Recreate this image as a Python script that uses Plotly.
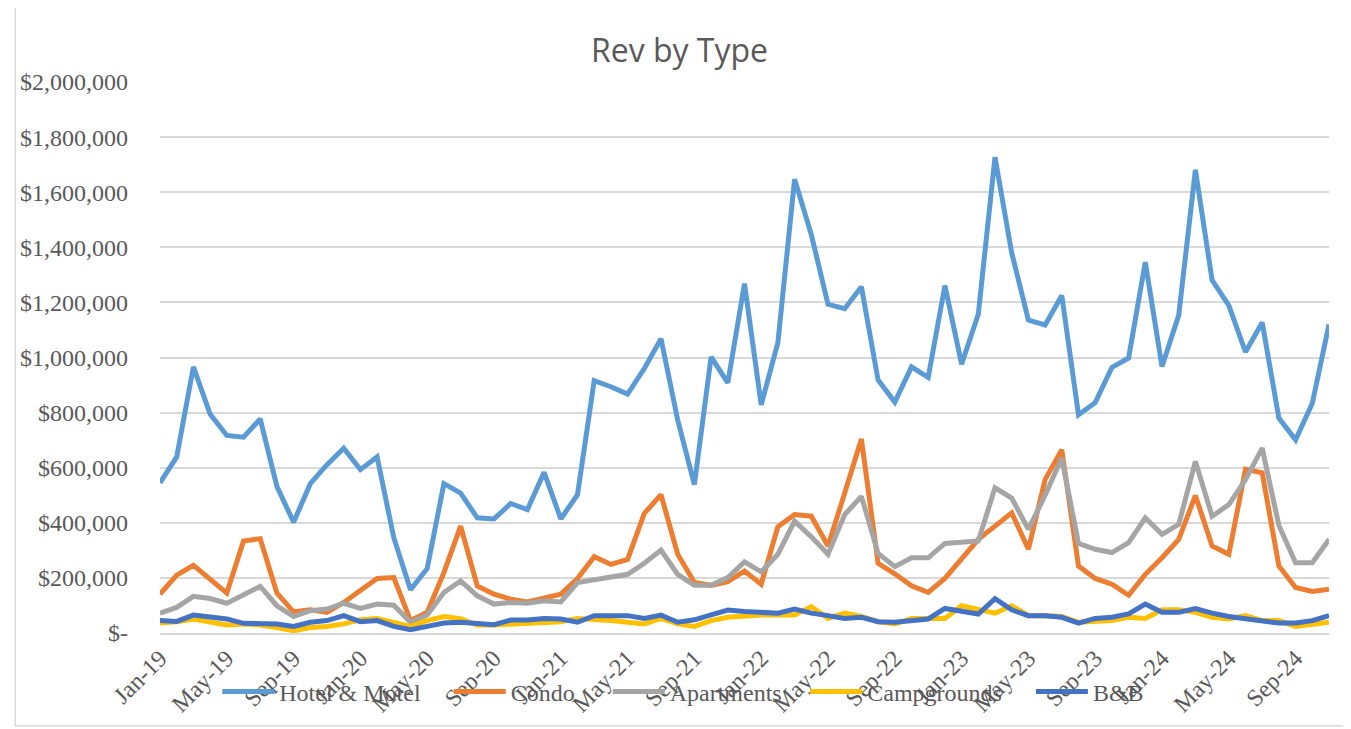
import plotly.graph_objects as go

# 月份类别 Jan-19 ... Nov-24
MONTH_NAMES = ["Jan", "Feb", "Mar", "Apr", "May", "Jun",
               "Jul", "Aug", "Sep", "Oct", "Nov", "Dec"]
YEARS = ["19", "20", "21", "22", "23", "24"]
months = [f"{m}-{y}" for y in YEARS for m in MONTH_NAMES][:71]

hotel_motel = [
    545000, 639000, 966000, 795000, 717000, 711000, 777000, 532000, 402000, 542000, 611000, 671000,
    593000, 639000, 346000, 157000, 234000, 542000, 508000, 418000, 414000, 470000, 448000, 583000,
    414000, 502000, 916000, 894000, 867000, 960000, 1068000, 773000, 539000, 1002000, 908000, 1268000,
    828000, 1054000, 1647000, 1446000, 1193000, 1177000, 1257000, 918000, 838000, 966000, 928000, 1261000,
    976000, 1157000, 1727000, 1380000, 1136000, 1118000, 1225000, 792000, 836000, 964000, 998000, 1346000,
    967000, 1153000, 1681000, 1281000, 1189000, 1020000, 1127000, 780000, 701000, 834000, 1120000,
]
condo = [
    141000, 210000, 246000, 198000, 145000, 334000, 342000, 145000, 77000, 84000, 75000, 111000,
    157000, 198000, 201000, 45000, 75000, 219000, 388000, 171000, 141000, 123000, 113000, 129000,
    141000, 198000, 277000, 249000, 267000, 434000, 502000, 286000, 183000, 173000, 186000, 225000,
    177000, 386000, 430000, 424000, 316000, 508000, 704000, 253000, 215000, 171000, 147000, 198000,
    267000, 340000, 388000, 436000, 304000, 557000, 665000, 243000, 198000, 177000, 137000, 213000,
    273000, 340000, 499000, 316000, 286000, 594000, 581000, 243000, 165000, 151000, 159000,
]
apartments = [
    72000, 93000, 133000, 125000, 108000, 137000, 169000, 99000, 60000, 81000, 87000, 108000,
    89000, 105000, 101000, 39000, 65000, 147000, 189000, 135000, 105000, 111000, 108000, 117000,
    113000, 183000, 193000, 207000, 213000, 253000, 301000, 213000, 173000, 173000, 201000, 258000,
    222000, 286000, 406000, 349000, 286000, 430000, 496000, 289000, 241000, 273000, 273000, 325000,
    330000, 334000, 527000, 490000, 376000, 500000, 635000, 325000, 304000, 292000, 328000, 418000,
    358000, 394000, 623000, 424000, 466000, 557000, 671000, 390000, 255000, 255000, 340000,
]
campgrounds = [
    36000, 41000, 51000, 41000, 29000, 33000, 29000, 20000, 8000, 20000, 24000, 33000,
    48000, 53000, 39000, 24000, 45000, 60000, 52000, 29000, 29000, 33000, 36000, 41000,
    41000, 53000, 51000, 45000, 39000, 33000, 53000, 33000, 24000, 45000, 57000, 63000,
    65000, 65000, 65000, 96000, 53000, 72000, 60000, 41000, 33000, 53000, 53000, 53000,
    99000, 87000, 72000, 99000, 63000, 63000, 60000, 39000, 41000, 45000, 57000, 53000,
    84000, 84000, 75000, 57000, 51000, 63000, 45000, 45000, 24000, 33000, 39000,
]
bnb = [
    45000, 42000, 65000, 59000, 51000, 35000, 36000, 33000, 24000, 39000, 45000, 63000,
    41000, 45000, 24000, 12000, 24000, 36000, 39000, 33000, 30000, 47000, 47000, 53000,
    51000, 39000, 63000, 63000, 63000, 53000, 65000, 39000, 48000, 66000, 83000, 78000,
    75000, 72000, 87000, 72000, 63000, 53000, 57000, 41000, 39000, 45000, 51000, 89000,
    77000, 69000, 125000, 84000, 63000, 63000, 57000, 36000, 53000, 57000, 69000, 105000,
    75000, 75000, 89000, 72000, 60000, 51000, 45000, 36000, 36000, 45000, 63000,
]

y_tickvals = [0, 200000, 400000, 600000, 800000, 1000000,
              1200000, 1400000, 1600000, 1800000, 2000000]
y_ticktext = ["$-" if v == 0 else f"${v:,}" for v in y_tickvals]

series = [
    ("Hotel & Motel", hotel_motel, "#5B9BD5"),
    ("Condo", condo, "#ED7D31"),
    ("Apartments", apartments, "#A5A5A5"),
    ("Campgrounds", campgrounds, "#FFC000"),
    ("B&B", bnb, "#4472C4"),
]

# 每个图例项单独放置，模仿 Excel 的图例间距
legend_x = [0.049, 0.247, 0.383, 0.552, 0.745]

font_serif = "Liberation Serif, Times New Roman, serif"
grey_text = "#595959"

fig = go.Figure()
legend_layout = {}
for k, (name, vals, color) in enumerate(series):
    key = "legend" if k == 0 else f"legend{k + 1}"
    fig.add_trace(go.Scatter(
        x=months,
        y=vals,
        name=name,
        mode="lines",
        line=dict(color=color, width=5),
        legend=key,
    ))
    legend_layout[key] = dict(
        orientation="h",
        x=legend_x[k],
        xanchor="left",
        y=-0.107,
        yanchor="middle",
        bgcolor="rgba(0,0,0,0)",
        font=dict(family=font_serif, size=24, color=grey_text),
        itemwidth=52,
    )

fig.update_layout(
    width=1343,
    height=721,
    paper_bgcolor="white",
    plot_bgcolor="white",
    margin=dict(l=142, r=22, t=74, b=87),
    title=dict(
        text="Rev by Type",
        x=0.5,
        xanchor="center",
        y=0.94,
        yanchor="middle",
        font=dict(family="Open Sans, Carlito, sans-serif", size=32, color=grey_text),
    ),
    xaxis=dict(
        type="category",
        tickvals=months[::4],
        ticktext=months[::4],
        tickangle=-45,
        tickfont=dict(family=font_serif, size=24, color=grey_text),
        showgrid=False,
        showline=True,
        linecolor="#D9D9D9",
        linewidth=1.5,
        ticks="",
    ),
    yaxis=dict(
        range=[0, 2000000],
        tickvals=y_tickvals,
        ticktext=y_ticktext,
        tickfont=dict(family=font_serif, size=24, color=grey_text),
        showgrid=True,
        gridcolor="#D9D9D9",
        gridwidth=1.5,
        zeroline=False,
        ticklabelstandoff=31,
    ),
    showlegend=True,
    shapes=[dict(
        type="rect",
        xref="paper", yref="paper",
        x0=-0.1238, x1=1.0205, y0=-0.1685, y1=1.1395,
        line=dict(color="#D9D9D9", width=1.5),
        fillcolor="rgba(0,0,0,0)",
        layer="below",
    )],
    **legend_layout,
)

fig.write_html("out.html")
